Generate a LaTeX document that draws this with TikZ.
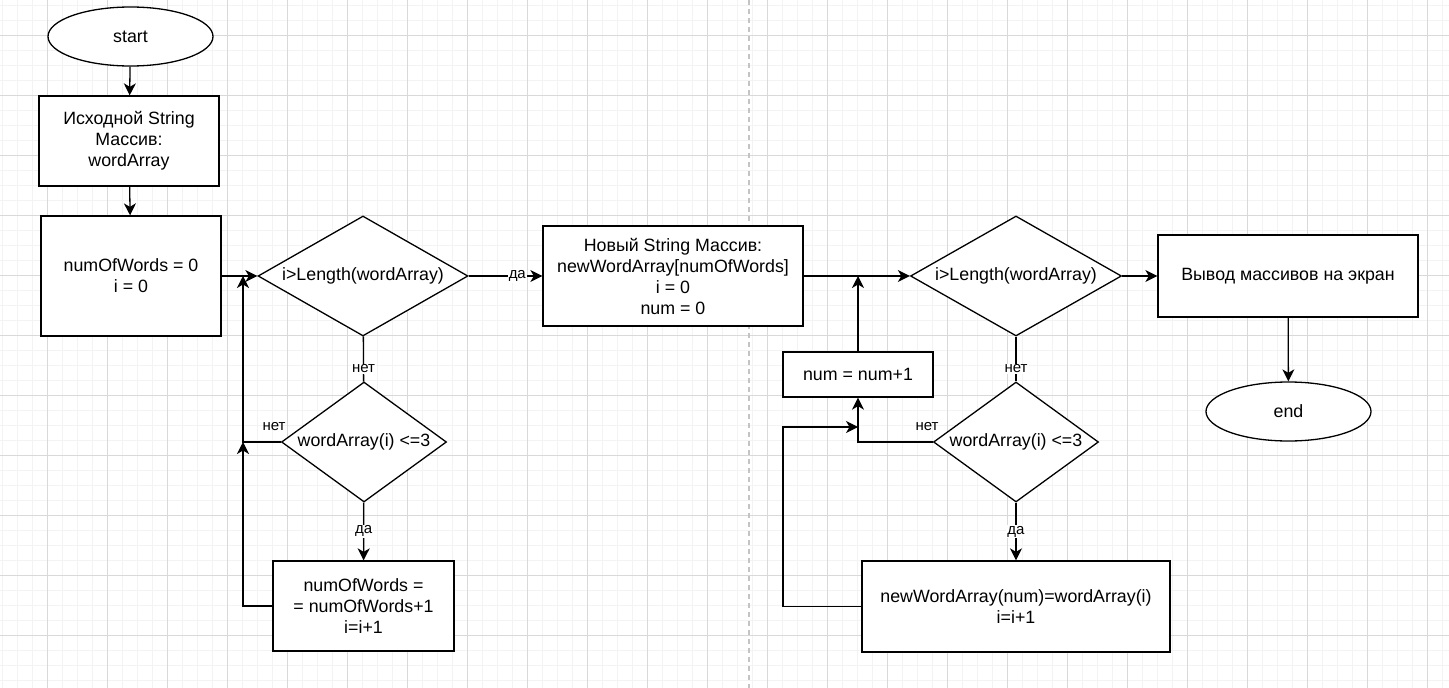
\documentclass[tikz,border=0pt]{standalone}
\usepackage{fontspec}
\setmainfont{Liberation Sans}
\usetikzlibrary{arrows.meta,shapes.geometric}
\definecolor{bg}{HTML}{FFFFFF}
\definecolor{gridminor}{HTML}{F3F3F3}
\definecolor{gridmajor}{HTML}{D9D9D9}
\definecolor{divider}{HTML}{C4C4C4}
\definecolor{ink}{HTML}{000000}

\begin{document}
\begin{tikzpicture}[x=1pt,y=-1pt,line cap=butt,line join=miter,
  every node/.style={font=\fontsize{17.8}{21}\selectfont,text=ink,align=center},
  block/.style={draw=ink,line width=1.3pt,fill=white,rectangle,inner sep=0pt},
  terminal/.style={draw=ink,line width=1.3pt,fill=white,ellipse,inner sep=0pt,minimum width=165,minimum height=59},
  decision/.style={draw=ink,line width=1.3pt,fill=white,diamond,inner sep=0pt},
  flow/.style={-{Stealth[length=12pt,width=12pt,inset=3.5pt]},line width=1.3pt,ink},
  plain/.style={line width=1.3pt,ink},
  lbl/.style={fill=white,inner sep=1pt,font=\fontsize{15}{18}\selectfont}]
  \useasboundingbox (0,0) rectangle (1449,688);
  \fill[bg] (0,0) rectangle (1449,688);

  % ---- background grid ----
  \foreach \gx in {2,17,...,1449} \draw[gridminor,line width=0.8pt] (\gx,0) -- (\gx,688);
  \foreach \gy in {5,20,...,688} \draw[gridminor,line width=0.8pt] (0,\gy) -- (1449,\gy);
  \foreach \gx in {47,107,...,1449} \draw[gridmajor,line width=0.8pt] (\gx,0) -- (\gx,688);
  \foreach \gy in {35,95,...,688} \draw[gridmajor,line width=0.8pt] (0,\gy) -- (1449,\gy);
  \draw[divider,line width=1.2pt,dash pattern=on 5pt off 4pt] (749,0) -- (749,688);

  % ---- first pass: count short words ----
  \node[terminal] (start) at (130.5,36.5) {start};
  \node[block,minimum width=180,minimum height=90] (srcArray) at (129,141) {Исходной String\\Массив:\\wordArray};
  \node[block,minimum width=180,minimum height=120] (initCount) at (131,276) {numOfWords = 0\\i = 0};
  \node[decision,minimum width=210,minimum height=120,aspect=1.75] (loopA) at (363,276) {i>Length(wordArray)};
  \node[decision,minimum width=165,minimum height=120,aspect=1.375] (testA) at (364,442) {wordArray(i) <=3};
  \node[block,minimum width=181,minimum height=90] (incCount) at (363.5,606) {numOfWords =\\= numOfWords+1\\i=i+1};

  % ---- second pass: copy short words ----
  \node[block,minimum width=260,minimum height=100] (newArray) at (673,276) {Новый String Массив:\\newWordArray[numOfWords]\\i = 0\\num = 0};
  \node[decision,minimum width=211,minimum height=120,aspect=1.75] (loopB) at (1016,276) {i>Length(wordArray)};
  \node[decision,minimum width=165,minimum height=120,aspect=1.375] (testB) at (1016,442) {wordArray(i) <=3};
  \node[block,minimum width=150,minimum height=45] (incNum) at (858,374.5) {num = num+1};
  \node[block,minimum width=308,minimum height=91] (copyWord) at (1016,606.5) {newWordArray(num)=wordArray(i)\\i=i+1};
  \node[block,minimum width=260,minimum height=82] (output) at (1288,276) {Вывод массивов на экран};
  \node[terminal] (finish) at (1288.5,411.5) {end};

  % junction points on the loop lines
  \coordinate (joinA) at (243,276);
  \coordinate (joinB) at (243,442);
  \coordinate (joinC) at (858,276);
  \coordinate (joinD) at (858,427);

  % ---- connectors ----
  \draw[flow] (start) -- (srcArray);
  \draw[flow] (srcArray) -- (initCount);
  \draw[flow] (initCount) -- (loopA);
  \draw[flow] (loopA) -- (newArray) node[lbl,pos=0.66] {да};
  \draw[plain] (loopA) -- (testA) node[lbl,pos=0.72] {нет};
  \draw[flow] (testA) -- (incCount) node[lbl,pos=0.5] {да};
  \draw[flow] (testA.west) -- (joinB) -- (joinA);
  \node[lbl,fill=none] at (274,427) {нет};
  \draw[flow] (incCount.west) -| (joinB);

  \draw[flow] (newArray) -- (loopB);
  \draw[flow] (loopB) -- (output);
  \draw[flow] (output) -- (finish);
  \draw[plain] (loopB) -- (testB) node[lbl,pos=0.72] {нет};
  \draw[flow] (testB) -- (copyWord) node[lbl,pos=0.5] {да};
  \draw[flow] (testB.west) -| (incNum.south);
  \node[lbl,fill=none] at (927,427) {нет};
  \draw[flow] (incNum) -- (joinC);
  \draw[flow] (copyWord.west) -- (783,606.5) |- (joinD);
\end{tikzpicture}
\end{document}
